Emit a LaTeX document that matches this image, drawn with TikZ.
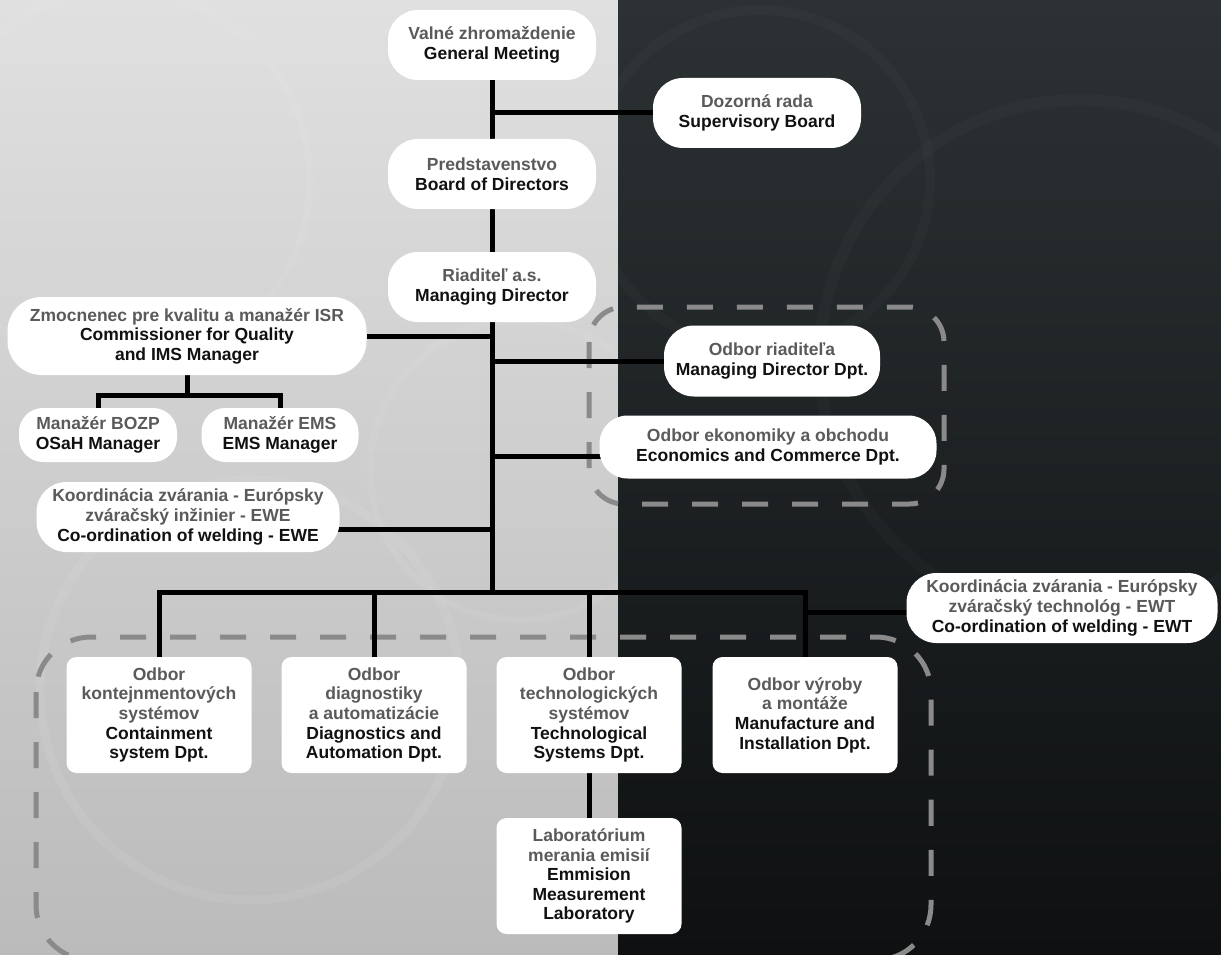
\documentclass[tikz,border=0pt]{standalone}
\usepackage{fontspec}
\setmainfont{Liberation Sans}
\usetikzlibrary{calc}
\definecolor{orgtext}{HTML}{111111}
\definecolor{orggray}{HTML}{5A5A5A}
\definecolor{dashgray}{HTML}{8A8A8A}
\definecolor{lighttop}{HTML}{E0E0E0}
\definecolor{lightbot}{HTML}{BBBBBB}
\definecolor{darktop}{HTML}{2C3234}
\definecolor{darkbot}{HTML}{0E1011}
\pgfdeclarelayer{bg}
\pgfdeclarelayer{lines}
\pgfsetlayers{bg,lines,main}
\newcommand{\sk}[1]{\textcolor{orggray}{#1}}

\begin{document}
\begin{tikzpicture}[x=1pt,y=-1pt,
    every node/.style={font=\fontsize{17.5}{19.6}\selectfont\bfseries,align=center,text=orgtext,fill=white,inner sep=0pt},
    pill/.style={rounded corners=30pt,minimum height=70pt},
    smallpill/.style={rounded corners=24pt,minimum height=54pt},
    dept/.style={rounded corners=10pt,minimum width=185pt,minimum height=116pt},
    link/.style={line width=5pt,draw=black},
    group/.style={draw=dashgray,line width=5pt,dash pattern=on 26pt off 24pt}]

\useasboundingbox (0,0) rectangle (1221,955);

\node[pill,minimum width=208pt] (gm) at (492,45) {\sk{Valné zhromaždenie}\\General Meeting};
\node[pill,minimum width=208pt] (sb) at (757,113) {\sk{Dozorná rada}\\Supervisory Board};
\node[pill,minimum width=208pt] (bod) at (492,174) {\sk{Predstavenstvo}\\Board of Directors};
\node[pill,minimum width=208pt] (md) at (492,287) {\sk{Riaditeľ a.s.}\\Managing Director};

\node[pill,minimum width=359pt,minimum height=78pt,rounded corners=34pt] (qm) at (187,336)
  {\sk{Zmocnenec pre kvalitu a manažér ISR}\\Commissioner for Quality\\and IMS Manager};
\node[smallpill,minimum width=158pt] (bozp) at (98,435) {\sk{Manažér BOZP}\\OSaH Manager};
\node[smallpill,minimum width=157pt] (ems) at (280,435) {\sk{Manažér EMS}\\EMS Manager};
\node[pill,minimum width=303pt] (ewe) at (188,517)
  {\sk{Koordinácia zvárania - Európsky}\\\sk{zváračský inžinier - EWE}\\Co-ordination of welding - EWE};

\node[pill,minimum width=216pt,minimum height=71pt] (mdd) at (772,361) {\sk{Odbor riaditeľa}\\Managing Director Dpt.};
\node[pill,minimum width=337pt,minimum height=63pt,rounded corners=28pt] (ecd) at (768,447)
  {\sk{Odbor ekonomiky a obchodu}\\Economics and Commerce Dpt.};
\node[pill,minimum width=311pt] (ewt) at (1062,608)
  {\sk{Koordinácia zvárania - Európsky}\\\sk{zváračský technológ - EWT}\\Co-ordination of welding - EWT};

\node[dept] (csd) at (159,715) {\sk{Odbor}\\\sk{kontejnmentových}\\\sk{systémov}\\Containment\\system Dpt.};
\node[dept] (dad) at (374,715) {\sk{Odbor}\\\sk{diagnostiky}\\\sk{a automatizácie}\\Diagnostics and\\Automation Dpt.};
\node[dept] (tsd) at (589,715) {\sk{Odbor}\\\sk{technologických}\\\sk{systémov}\\Technological\\Systems Dpt.};
\node[dept] (mid) at (805,715) {\sk{Odbor výroby}\\\sk{a montáže}\\Manufacture and\\Installation Dpt.};
\node[dept] (eml) at (589,876) {\sk{Laboratórium}\\\sk{merania emisií}\\Emmision\\Measurement\\Laboratory};

\begin{pgfonlayer}{bg}
  \shade[top color=lighttop,bottom color=lightbot] (0,0) rectangle (618,955);
  \shade[top color=darktop,bottom color=darkbot] (618,0) rectangle (1221,955);
  \begin{scope}
    \clip (0,0) rectangle (618,955);
    \draw[white,opacity=0.07,line width=9pt] (250,690) circle (210);
    \draw[white,opacity=0.06,line width=7pt] (120,180) circle (190);
    \draw[white,opacity=0.06,line width=7pt] (520,470) circle (150);
  \end{scope}
  \begin{scope}
    \clip (618,0) rectangle (1221,955);
    \draw[white,opacity=0.02,line width=12pt] (1080,360) circle (260);
    \draw[white,opacity=0.02,line width=10pt] (760,180) circle (170);
  \end{scope}
  \draw[group,rounded corners=35pt] (589,307) rectangle (944,504);
  \draw[group,rounded corners=55pt] (36,637) rectangle (931,960);
\end{pgfonlayer}

\begin{pgfonlayer}{lines}
  \coordinate (bus) at (492,592);
  \draw[link] (gm) -- (bod) -- (md) -- (bus);
  \draw[link] (sb) -- (sb -| gm);
  \draw[link] (qm) -- (qm -| md);
  \draw[link] (qm) -- ($(qm.south)+(0,20)$);
  \draw[link] (bozp) |- ($(qm.south)+(0,20)$) -| (ems);
  \draw[link] ([yshift=-12pt]ewe.center) -- ([yshift=-12pt]ewe.center -| md);
  \draw[link] (mdd) -- (mdd -| md);
  \draw[link] ([yshift=-9pt]ecd.center) -- ([yshift=-9pt]ecd.center -| md);
  \draw[link] (csd) |- (bus) -| (mid);
  \draw[link] (dad) -- (dad |- bus);
  \draw[link] (tsd) -- (tsd |- bus);
  \draw[link] (tsd) -- (eml);
  \draw[link] ([yshift=-4pt]ewt.center) -- ([yshift=-4pt]ewt.center -| mid);
\end{pgfonlayer}
\end{tikzpicture}
\end{document}
